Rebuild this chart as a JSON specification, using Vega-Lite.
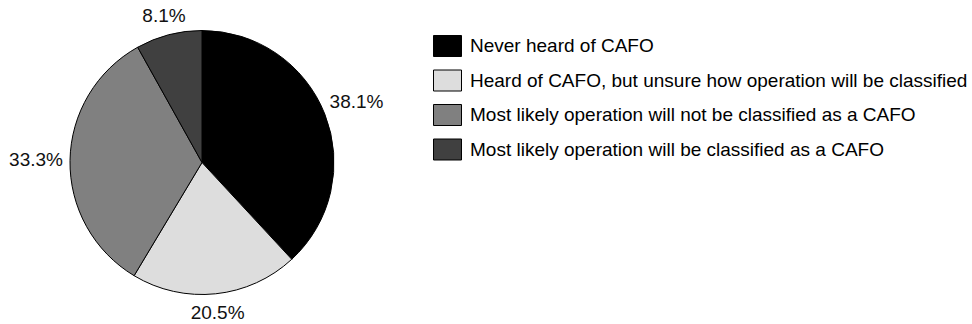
{
  "$schema": "https://vega.github.io/schema/vega-lite/v6.json",
  "width": 404,
  "height": 325,
  "autosize": {"type": "none"},
  "padding": {"left": 0, "top": 0, "right": 568, "bottom": 0},
  "background": "white",
  "config": {"view": {"stroke": null}, "font": "Liberation Sans"},
  "data": {"values": [
    {"category": "Never heard of CAFO", "pct": 38.1, "label": "38.1%", "order": 1},
    {"category": "Heard of CAFO, but unsure how operation will be classified", "pct": 20.5, "label": "20.5%", "order": 2},
    {"category": "Most likely operation will not be classified as a CAFO", "pct": 33.3, "label": "33.3%", "order": 3},
    {"category": "Most likely operation will be classified as a CAFO", "pct": 8.1, "label": "8.1%", "order": 4}
  ]},
  "transform": [
    {"stack": "pct", "groupby": [], "sort": [{"field": "order"}], "as": ["t0", "t1"]},
    {"calculate": "(datum.t0 + datum.t1) / 2", "as": "tm"}
  ],
  "layer": [
    {
      "mark": {"type": "arc", "outerRadius": 132, "stroke": "black", "strokeWidth": 1},
      "encoding": {
        "theta": {"field": "t0", "type": "quantitative", "scale": {"domain": [0, 100]}},
        "theta2": {"field": "t1"},
        "color": {
          "field": "category", "type": "nominal",
          "scale": {
            "domain": ["Never heard of CAFO", "Heard of CAFO, but unsure how operation will be classified", "Most likely operation will not be classified as a CAFO", "Most likely operation will be classified as a CAFO"],
            "range": ["#000000", "#dddddd", "#808080", "#404040"]
          },
          "legend": {
            "title": null,
            "orient": "none",
            "legendX": 433,
            "legendY": 31.5,
            "padding": 0,
            "symbolType": "M-1,-0.75H1V0.75H-1Z",
            "symbolSize": 784,
            "symbolStrokeColor": "black",
            "symbolStrokeWidth": 1,
            "symbolOpacity": 1,
            "labelFontSize": 19,
            "labelColor": "black",
            "labelOffset": 8,
            "labelLimit": 600,
            "rowPadding": 7.5
          }
        }
      }
    },
    {
      "transform": [{"filter": "datum.order == 1 || datum.order == 3"}],
      "mark": {"type": "text", "radius": 166, "fontSize": 19, "color": "#111111"},
      "encoding": {
        "theta": {"field": "tm", "type": "quantitative", "scale": {"domain": [0, 100]}},
        "text": {"field": "label"}
      }
    },
    {
      "transform": [{"filter": "datum.order == 2 || datum.order == 4"}],
      "mark": {"type": "text", "radius": 151, "fontSize": 19, "color": "#111111"},
      "encoding": {
        "theta": {"field": "tm", "type": "quantitative", "scale": {"domain": [0, 100]}},
        "text": {"field": "label"}
      }
    }
  ]
}
